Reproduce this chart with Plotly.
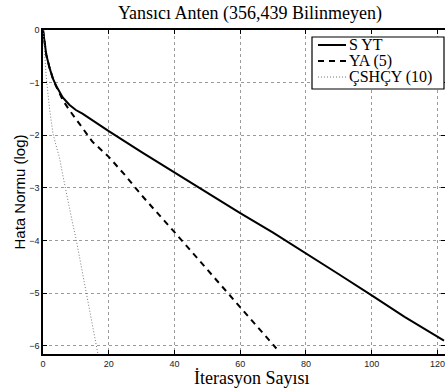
import plotly.graph_objects as go

# ---- data ----
syt_x = [0, 1, 2, 3, 4, 5, 6, 8, 10, 12, 15, 20, 30, 40, 50, 60, 70, 80, 90, 100, 110, 122]
syt_y = [0, -0.47, -0.72, -0.92, -1.06, -1.18, -1.28, -1.42, -1.52, -1.59, -1.72, -1.92,
         -2.32, -2.71, -3.10, -3.48, -3.85, -4.24, -4.64, -5.04, -5.45, -5.90]

ya_x = [0, 1, 2, 3, 4, 5, 6, 8, 10, 12, 15, 20, 25, 30, 40, 50, 60, 71]
ya_y = [0, -0.47, -0.72, -0.92, -1.07, -1.20, -1.33, -1.52, -1.68, -1.86, -2.12, -2.41,
        -2.76, -3.14, -3.84, -4.55, -5.27, -6.05]

cs_x = [0, 1, 2, 3, 4, 5, 6, 7, 8, 9, 10, 11, 12, 13, 14, 15, 16, 17]
cs_y = [0, -0.90, -1.50, -1.95, -2.20, -2.42, -2.75, -3.08, -3.38, -3.67, -3.95, -4.28,
        -4.60, -4.95, -5.28, -5.60, -5.92, -6.25]

names = ["S YT", "YA (5)", "ÇSHÇY (10)"]
title_text = "Yansıcı Anten (356,439 Bilinmeyen)"
xlabel = "İterasyon Sayısı"
ylabel = "Hata Normu (log)"
xticks = [0, 20, 40, 60, 80, 100, 120]
yticks = [0, -1, -2, -3, -4, -5, -6]

SERIF = "Liberation Serif, DejaVu Serif, Times New Roman, serif"
SANS = "Liberation Sans, Arial, sans-serif"

styles = [dict(color="black", width=2),
          dict(color="black", width=2, dash="6px,5px"),
          dict(color="#777777", width=1, dash="1px,2px")]

fig = go.Figure()
for xs, ys, nm, st in zip([syt_x, ya_x, cs_x], [syt_y, ya_y, cs_y], names, styles):
    fig.add_trace(go.Scatter(x=xs, y=ys, mode="lines", name=nm, line=st,
                             showlegend=False))

axis_common = dict(showline=True, linecolor="black", linewidth=1.5, mirror="ticks",
                   ticks="inside", ticklen=4, tickcolor="black",
                   showgrid=True, gridcolor="#9a9a9a", griddash="dot", gridwidth=1,
                   zeroline=False,
                   tickfont=dict(family=SANS, size=9, color="#222222"))

fig.update_xaxes(range=[0, 122.3], tickvals=xticks, **axis_common)
fig.update_yaxes(range=[-6.155, 0], tickvals=yticks,
                 title=dict(text=ylabel, font=dict(family=SANS, size=15, color="black"),
                            standoff=0),
                 **axis_common)

# ---- legend box drawn in paper coordinates (MATLAB-style compact legend) ----
L, T, PW, PH = 43, 30, 402, 324
def px(x):
    return (x - L) / PW
def py(y):
    return 1 - (y - T) / PH

shapes = [dict(type="rect", xref="paper", yref="paper",
               x0=px(312), x1=px(444), y0=py(89), y1=py(37),
               fillcolor="white", line=dict(color="black", width=1.2), layer="above")]
annotations = [dict(text=xlabel, xref="paper", yref="paper", x=px(251), y=py(378),
                    xanchor="center", yanchor="middle", showarrow=False,
                    font=dict(family=SERIF, size=18, color="black"))]
for i, (nm, st) in enumerate(zip(names, styles)):
    yc = 45 + 16 * i
    shapes.append(dict(type="line", xref="paper", yref="paper",
                       x0=px(318), x1=px(346), y0=py(yc), y1=py(yc),
                       line=st, layer="above"))
    annotations.append(dict(text=nm, xref="paper", yref="paper", x=px(347), y=py(yc),
                            xanchor="left", yanchor="middle", showarrow=False,
                            font=dict(family=SERIF, size=16, color="black")))

fig.update_layout(
    width=445, height=390,
    margin=dict(l=43, r=0, t=30, b=36, autoexpand=False),
    paper_bgcolor="white", plot_bgcolor="white",
    title=dict(text=title_text, x=250 / 445, xref="container", xanchor="center",
               y=1 - 13 / 390, yref="container", yanchor="middle",
               font=dict(family=SERIF, size=18, color="black")),
    showlegend=False,
    shapes=shapes,
    annotations=annotations,
)

fig.write_html("out.html", config={"displayModeBar": False},
               post_script="document.body.style.margin='0';document.body.style.padding='0';")
